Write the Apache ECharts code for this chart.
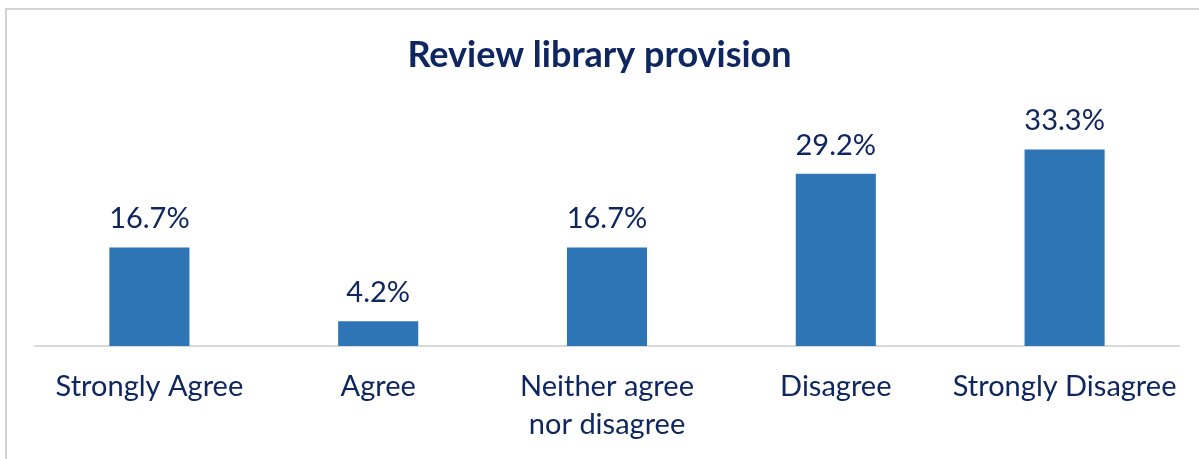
<!DOCTYPE html>
<html>
<head>
<meta charset="utf-8">
<script src="https://cdn.jsdelivr.net/npm/echarts@6/dist/echarts.min.js"></script>
<style>
  html, body { margin: 0; padding: 0; background: #fff; }
  #chartColumn { width: 1199px; height: 459px; }
</style>
</head>
<body>
<div id="chartColumn"></div>
<script>
// 类别与数值（百分比）
var categories = ["Strongly Agree", "Agree", "Neither agree\nnor disagree", "Disagree", "Strongly Disagree"];
var values = [16.7, 4.2, 16.7, 29.2, 33.3];

var textColor = "#0F2760";
var fontName = "Lato, 'Noto Sans', sans-serif";

var chartColumn = echarts.init(document.getElementById("chartColumn"));
chartColumn.setOption({
  animation: false,
  title: {
    text: "Review library provision",
    left: "center",
    top: 32,
    textStyle: { fontFamily: fontName, fontSize: 36, fontWeight: "bold", color: textColor }
  },
  graphic: [
    {
      type: "rect",
      shape: { x: 6, y: 9, width: 1300, height: 600 },
      style: { fill: "none", stroke: "#D3D3D3", lineWidth: 2 },
      silent: true
    }
  ],
  grid: { left: 35, right: 20, top: 110, bottom: 113 },
  xAxis: {
    type: "category",
    data: categories,
    axisLine: { lineStyle: { color: "#D9D9D9", width: 2 } },
    axisTick: { show: false },
    axisLabel: {
      fontFamily: fontName,
      fontSize: 29,
      color: textColor,
      lineHeight: 38,
      margin: 22,
      interval: 0
    }
  },
  yAxis: {
    type: "value",
    min: 0,
    max: 40,
    show: false,
    splitLine: { show: false }
  },
  series: [
    {
      type: "bar",
      data: values,
      barWidth: "35%",
      itemStyle: { color: "#2E75B6" },
      label: {
        show: true,
        position: "top",
        distance: 14,
        formatter: function (p) { return p.value.toFixed(1) + "%"; },
        fontFamily: fontName,
        fontSize: 29,
        color: textColor
      }
    }
  ]
});
</script>
</body>
</html>
